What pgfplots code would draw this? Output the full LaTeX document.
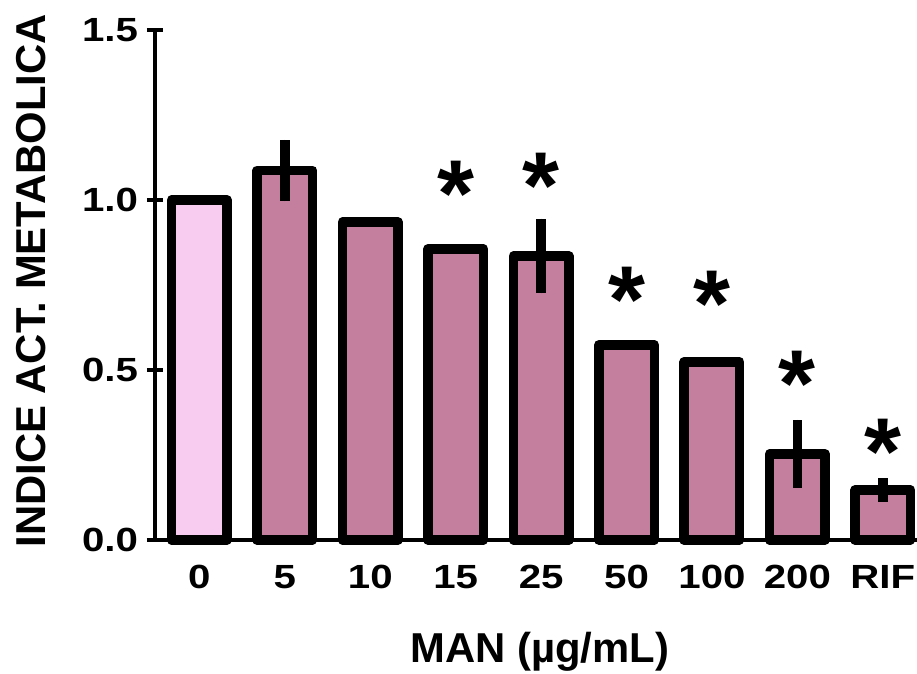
\documentclass[border=0pt]{standalone}
\usepackage{pgfplots}
\pgfplotsset{compat=1.18}
\usepackage{fontspec}
\setmainfont{Liberation Sans}
\definecolor{pinkbar}{RGB}{248,204,240}
\definecolor{mauvebar}{RGB}{196,126,158}
\begin{document}
\begin{tikzpicture}
\begin{axis}[
  scale only axis,
  width=762pt, height=510pt,
  xmin=-0.52, xmax=8.40,
  ymin=0, ymax=1.5,
  axis x line=bottom, axis y line=left,
  axis line style={-, line width=3.5pt},
  xtick={0,1,2,3,4,5,6,7,8},
  xticklabels={0,5,10,15,25,50,100,200,RIF},
  x tick style={draw=none},
  ytick={0,0.5,1.0,1.5},
  tick align=center,
  major tick length=16pt,
  y tick style={line width=3.5pt, black},
  minor tick num=0,
  /pgf/number format/assume math mode=true,
  yticklabel style={/pgf/number format/fixed, /pgf/number format/fixed zerofill, /pgf/number format/precision=1, xshift=-4pt},
  tick label style={font=\fontsize{33.5}{33.5}\selectfont\bfseries, xscale=1.2},
  xticklabel style={yshift=-14pt},
  xlabel={MAN (µg/mL)},
  ylabel={INDICE ACT. METABOLICA},
  label style={font=\fontsize{41.8}{41.8}\selectfont\bfseries},
  xlabel style={at={(axis description cs:0.505,-0.241)}, anchor=base},
  ylabel style={at={(axis description cs:-0.162,0.508)}, anchor=center},
  clip=false,
]
\addplot[ybar, bar width=55.5pt, bar shift=0pt, fill=pinkbar, draw=black, line width=9.5pt, line join=round]
  coordinates {(0,1.0)};
\addplot[ybar, bar width=55.5pt, bar shift=0pt, fill=mauvebar, draw=black, line width=9.5pt, line join=round,
  error bars/.cd, y dir=both, y explicit, error mark=none,
  error bar style={line width=9.5pt, black}]
  table[x=x, y=y, y error=e] {
  x y e
  1 1.087 0.090
  2 0.935 0
  3 0.856 0
  4 0.835 0.110
  5 0.574 0
  6 0.524 0
  7 0.253 0.100
  8 0.147 0.034
  };
\addplot[draw=none, mark=none,
  nodes near coords={\raisebox{-0.53em}{*}},
  every node near coord/.append style={anchor=base, inner sep=0pt, font=\fontsize{95}{95}\selectfont\bfseries}]
  coordinates {(3,1.070) (4,1.093) (5,0.758) (6,0.746) (7,0.511) (8,0.311)};
\coordinate (bl) at (rel axis cs:-0.2034,-0.2608);
\coordinate (tr) at (rel axis cs:1.0,1.0588);
\end{axis}
\pgfresetboundingbox
\path[use as bounding box] (bl) rectangle (tr);
\end{tikzpicture}
\end{document}
